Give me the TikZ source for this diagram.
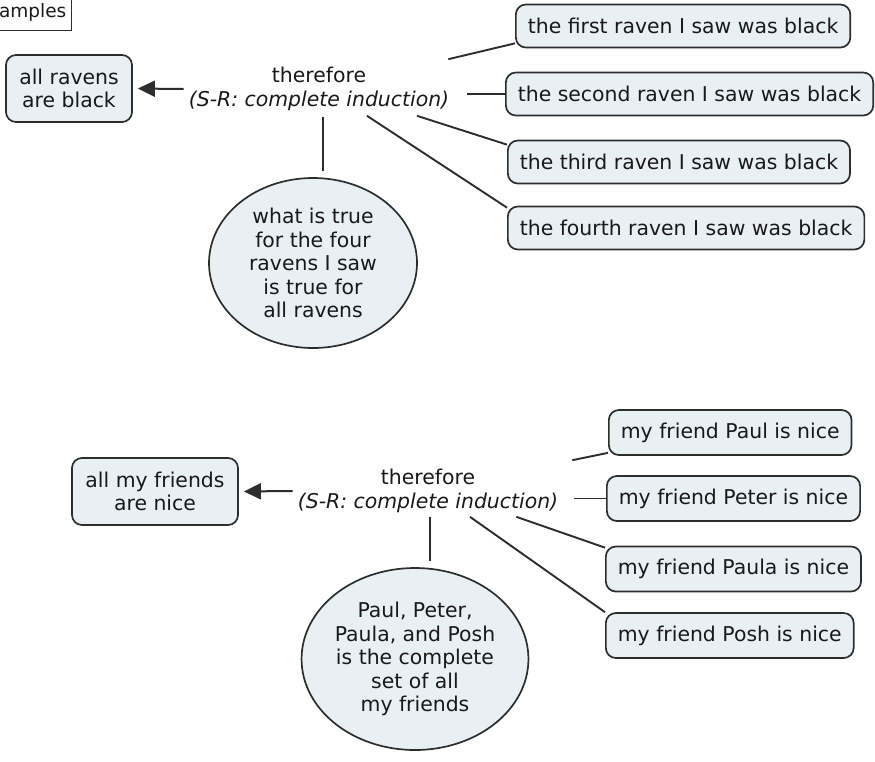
\documentclass[tikz,border=0pt]{standalone}
\usepackage{fontspec}
\setmainfont{DejaVu Sans}
\usetikzlibrary{arrows.meta,shapes.geometric}
\definecolor{cmapfill}{RGB}{233,240,244}
\definecolor{cmapline}{RGB}{45,45,45}
\definecolor{cmaptext}{RGB}{25,25,25}
\newcommand{\cmapfont}{\fontsize{20.4}{23.5}\selectfont}

\begin{document}
\begin{tikzpicture}[
    x=1pt,y=-1pt,
    >={Triangle[length=17pt,width=16pt]},
    concept/.style={draw=cmapline,fill=cmapfill,rounded corners=10pt,
                    line width=1.7pt,text=cmaptext,font=\cmapfont,
                    inner xsep=12pt,minimum height=43pt,align=center},
    belief/.style ={draw=cmapline,fill=cmapfill,ellipse,line width=1.7pt,
                    text=cmaptext,font=\cmapfont,inner sep=0pt,align=center},
    linkword/.style={text=cmaptext,font=\cmapfont,inner sep=3pt,align=center},
    conn/.style   ={draw=cmapline,line width=1.9pt},
    arr/.style    ={->,draw=cmapline,line width=2pt,shorten >=5pt},
  ]
  \clip (0,0) rectangle (875,761);

  %% header tag (cut by the page edge)
  \node[draw=cmapline,line width=1.4pt,fill=white,anchor=south east,
        font=\fontsize{18.5}{20}\selectfont,text=cmaptext,inner xsep=5pt,
        minimum height=36pt] (tag) at (72,31) {amples};

  %% ---------------- ravens ----------------
  \node[concept,minimum width=126pt,minimum height=67pt]
    (ravall) at (69,88.5) {all ravens\\are black};
  \node[linkword] (ravlink) at (319,89)
    {therefore\\\textit{(S-R: complete induction)}};

  \node[concept,anchor=west] (rav1) at (515,26)  {the first raven I saw was black};
  \node[concept,anchor=west] (rav2) at (505,94)  {the second raven I saw was black};
  \node[concept,anchor=west] (rav3) at (507,162) {the third raven I saw was black};
  \node[concept,anchor=west] (rav4) at (507,228) {the fourth raven I saw was black};

  \node[belief,minimum width=208pt,minimum height=170pt] (ravrule) at (313,263)
    {what is true\\for the four\\ravens I saw\\is true for\\all ravens};

  %% link -> conclusion
  \draw[arr] ([xshift=-2pt]ravlink.west) -- (ravall.east);

  %% premises -> link
  \draw[conn] ([xshift=-4pt,yshift=5pt]ravlink.north east)
    -- ([yshift=5pt]rav1.south west);
  \draw[conn] ([xshift=15pt]ravlink.east |- rav2.west) -- (rav2.west);
  \draw[conn] ([xshift=98pt,yshift=-2pt]ravlink.south)
    -- ([yshift=-5pt]rav3.north west);
  \draw[conn] ([xshift=48pt,yshift=-2pt]ravlink.south)
    -- ([yshift=-2pt]rav4.north west);

  %% rule -> link
  \draw[conn,shorten >=6pt] ([xshift=4pt,yshift=-3pt]ravlink.south)
    -- ([xshift=4pt]ravlink.south |- ravrule.north);

  %% ---------------- friends ----------------
  \node[concept,minimum width=166pt,minimum height=67pt]
    (friall) at (155,491.5) {all my friends\\are nice};
  \node[linkword] (frilink) at (428,491)
    {therefore\\\textit{(S-R: complete induction)}};

  \node[concept,anchor=west,minimum height=45pt] (fri1) at (608,432.5) {my friend Paul is nice};
  \node[concept,anchor=west,minimum height=45pt] (fri2) at (606,498.5) {my friend Peter is nice};
  \node[concept,anchor=west,minimum height=45pt] (fri3) at (605,569)   {my friend Paula is nice};
  \node[concept,anchor=west,minimum height=45pt] (fri4) at (605,635.5) {my friend Posh is nice};

  \node[belief,minimum width=224pt,minimum height=182pt] (frirule) at (415,659)
    {Paul, Peter,\\Paula, and Posh\\is the complete\\set of all\\my friends};

  %% link -> conclusion
  \draw[arr] ([xshift=-2pt]frilink.west) -- (friall.east);

  %% premises -> link
  \draw[conn] ([xshift=11pt,yshift=6pt]frilink.south east |- frilink.north)
    -- ([yshift=3pt]fri1.south west);
  \draw[conn] ([xshift=13pt]frilink.east |- fri2.west) -- (fri2.west);
  \draw[conn] ([xshift=-45pt,yshift=-1pt]frilink.south east)
    -- ([yshift=-2pt]fri3.north west);
  \draw[conn] ([xshift=42pt,yshift=-1pt]frilink.south)
    -- (fri4.north west);

  %% rule -> link
  \draw[conn,shorten >=6pt] ([xshift=2pt,yshift=-1pt]frilink.south)
    -- ([xshift=2pt]frilink.south |- frirule.north);
\end{tikzpicture}
\end{document}
